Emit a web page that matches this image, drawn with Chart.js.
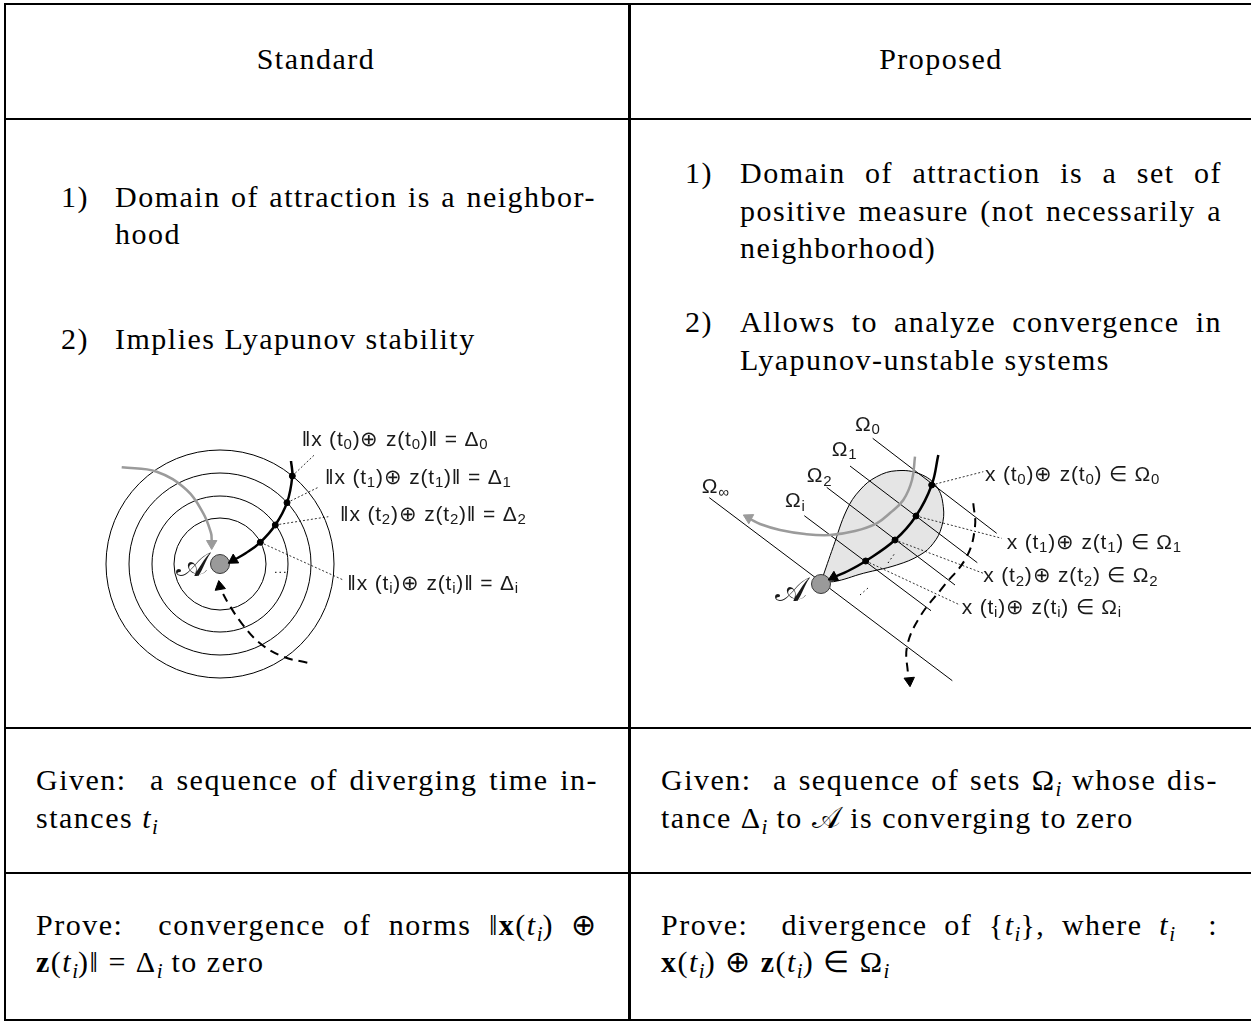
<!DOCTYPE html>
<html>
<head>
<meta charset="utf-8">
<script src="https://cdn.jsdelivr.net/npm/chart.js@4.4.1/dist/chart.umd.min.js"></script>
<style>
body { margin: 0; background: #fff; }
#page { position: relative; width: 1251px; height: 1021px; overflow: hidden;
        font-family: "Liberation Serif", serif; font-size: 30px; color: #000; letter-spacing: 1.5px; }
.rule { position: absolute; background: #000; }
.blk { position: absolute; line-height: 37px; }
.jl { text-align: justify; text-align-last: justify; }
.s { font-size: 70%; vertical-align: -0.28em; line-height: 0; letter-spacing: 0; }
.cal { font-family: "DejaVu Serif", serif; }
canvas { position: absolute; }
</style>
</head>
<body>
<div id="page">
  <div class="rule" style="left:4px;top:3px;width:1247px;height:2px"></div>
  <div class="rule" style="left:4px;top:3px;width:2px;height:1018px"></div>
  <div class="rule" style="left:4px;top:1019px;width:1247px;height:2px"></div>
  <div class="rule" style="left:628px;top:3px;width:3px;height:1018px"></div>
  <div class="rule" style="left:4px;top:118px;width:1247px;height:2px"></div>
  <div class="rule" style="left:4px;top:727px;width:1247px;height:2px"></div>
  <div class="rule" style="left:4px;top:872px;width:1247px;height:2px"></div>

  <div class="blk" style="left:4px;top:40px;width:624px;text-align:center">Standard</div>
  <div class="blk" style="left:631px;top:40px;width:620px;text-align:center">Proposed</div>

  <div class="blk" style="left:61px;top:178px">1)</div>
  <div class="blk" style="left:115px;top:178px;width:481px">
    <div class="jl">Domain of attraction is a neighbor-</div>
    <div>hood</div>
  </div>
  <div class="blk" style="left:61px;top:320px">2)</div>
  <div class="blk" style="left:115px;top:320px">Implies Lyapunov stability</div>

  <div class="blk" style="left:685px;top:154px;line-height:37.5px">1)</div>
  <div class="blk" style="left:740px;top:154px;width:482px;line-height:37.5px">
    <div class="jl">Domain of attraction is a set of</div>
    <div class="jl">positive measure (not necessarily a</div>
    <div>neighborhood)</div>
  </div>
  <div class="blk" style="left:685px;top:303px;line-height:37.5px">2)</div>
  <div class="blk" style="left:740px;top:303px;width:482px;line-height:37.5px">
    <div class="jl">Allows to analyze convergence in</div>
    <div>Lyapunov-unstable systems</div>
  </div>

  <div class="blk" style="left:36px;top:761px;width:562px;line-height:38px">
    <div class="jl">Given:&nbsp; a sequence of diverging time in-</div>
    <div>stances <i>t</i><span class="s"><i>i</i></span></div>
  </div>
  <div class="blk" style="left:661px;top:761px;width:557px;line-height:38px">
    <div class="jl">Given:&nbsp; a sequence of sets &Omega;<span class="s"><i>i</i></span> whose dis-</div>
    <div>tance &Delta;<span class="s"><i>i</i></span> to <span class="cal">&#x1D49C;</span> is converging to zero</div>
  </div>

  <div class="blk" style="left:36px;top:906px;width:562px">
    <div class="jl">Prove:&nbsp; convergence of norms &#x2016;<b>x</b>(<i>t</i><span class="s"><i>i</i></span>) &oplus;</div>
    <div><b>z</b>(<i>t</i><span class="s"><i>i</i></span>)&#x2016; = &Delta;<span class="s"><i>i</i></span> to zero</div>
  </div>
  <div class="blk" style="left:661px;top:906px;width:557px">
    <div class="jl">Prove:&nbsp; divergence of {<i>t</i><span class="s"><i>i</i></span>}, where <i>t</i><span class="s"><i>i</i></span> &nbsp;:</div>
    <div><b>x</b>(<i>t</i><span class="s"><i>i</i></span>) &oplus; <b>z</b>(<i>t</i><span class="s"><i>i</i></span>) &isin; &Omega;<span class="s"><i>i</i></span></div>
  </div>

  <canvas id="stdChart" width="470" height="300" style="left:90px;top:400px"></canvas>
  <canvas id="propChart" width="540" height="300" style="left:690px;top:400px"></canvas>
</div>

<script>
// ---- left panel: nested level sets around the attractor ----
var stdCenter = {x: 220, y: 564};
var stdRadii = [114, 91, 68, 46];
var stdTraj = [{x:291,y:461},{x:292.3,y:476},{x:287,y:502.7},{x:275.3,y:525},{x:260.3,y:542.3},{x:246,y:553},{x:234,y:560}];
var stdHits = [{x:292.3,y:476},{x:287,y:502.7},{x:275.3,y:525},{x:260.3,y:542.3}];
var stdGray = [{x:121.7,y:467.3},{x:156.7,y:471.7},{x:186.7,y:490},{x:203.3,y:513.3},{x:211,y:533},{x:211.7,y:540}];
var stdDashed = [{x:307.3,y:662.7},{x:283.3,y:656.7},{x:260,y:643.3},{x:241.7,y:623.3},{x:228.3,y:603.3},{x:220.5,y:589}];
var stdHeads = [{x:233.4,y:560.1,a:238},{x:219.8,y:586.5,a:350}];
var stdGrayHeads = [{x:211.7,y:543.5,a:180}];
var stdLeaders = [
  [{x:292.3,y:476},{x:315,y:454.3}],
  [{x:287,y:502.7},{x:318.3,y:487.3}],
  [{x:275.3,y:525},{x:328.3,y:516.7}],
  [{x:260.3,y:542.3},{x:343.3,y:580}]
];
var stdEllipsis = [{x:275,y:572.3},{x:287,y:572.3}];
var stdLabels = [
  {x:301.7, y:440, parts:['\u2016x (t',['0'],')\u2295 z(t',['0'],')\u2016 = \u0394',['0']]},
  {x:325, y:478.3, parts:['\u2016x (t',['1'],')\u2295 z(t',['1'],')\u2016 = \u0394',['1']]},
  {x:340, y:515, parts:['\u2016x (t',['2'],')\u2295 z(t',['2'],')\u2016 = \u0394',['2']]},
  {x:347.3, y:584, parts:['\u2016x (t',['i'],')\u2295 z(t',['i'],')\u2016 = \u0394',['i']]},
  {x:176, y:567, big:true, parts:['\uD835\uDC9C']}
];

// ---- right panel: sets Omega_i approaching the attractor ----
var propA = {x: 821, y: 584};
var propLines = [
  [{x:709.3,y:497.7},{x:952.3,y:680.7}],
  [{x:872.7,y:438.3},{x:996.7,y:533.3}],
  [{x:850,y:466},{x:977.3,y:562.7}],
  [{x:826.7,y:487.3},{x:955,y:585}],
  [{x:804.3,y:515.7},{x:931,y:610.7}]
];
var propDrop = [{x:821.7,y:580},{x:833.3,y:546.7},{x:846.7,y:510},{x:860,y:490},{x:876.7,y:476.7},{x:896.7,y:470.7},
  {x:920,y:474},{x:936.7,y:486.7},{x:943.3,y:506.7},{x:941.7,y:526.7},{x:933.3,y:543.3},{x:920,y:555},
  {x:896.7,y:565},{x:863.3,y:573.3},{x:833.3,y:581.7},{x:821.7,y:580}];
var propTraj = [{x:938.3,y:455},{x:931.7,y:485},{x:916,y:516},{x:895,y:540},{x:865.7,y:561},{x:848,y:571},{x:834,y:577}];
var propHits = [{x:931.7,y:485},{x:916,y:516},{x:895,y:540},{x:865.7,y:561}];
var propGray = [{x:915,y:456.7},{x:912,y:480},{x:903.3,y:500},{x:890,y:513},{x:876.7,y:523.3},{x:855,y:531},
  {x:830,y:535},{x:805,y:534},{x:780,y:530},{x:760,y:524},{x:750,y:519}];
var propDashed = [{x:973.3,y:503.3},{x:975,y:526.7},{x:966.7,y:556.7},{x:943.3,y:586.7},{x:920,y:616.7},{x:907,y:646.7},{x:908,y:675}];
var propHeads = [{x:833.6,y:577.3,a:243},{x:909.5,y:680.7,a:175}];
var propGrayHeads = [{x:748.6,y:517.8,a:298}];
var propLeaders = [
  [{x:931.7,y:485},{x:983.3,y:471.7}],
  [{x:916,y:516},{x:1001.7,y:538.3}],
  [{x:895,y:540},{x:983.3,y:573.3}],
  [{x:865.7,y:561},{x:960,y:605}]
];
var propEllipsis = [
  [{x:888,y:563},{x:895,y:553}],
  [{x:860,y:595},{x:868,y:588}]
];
var propLabels = [
  {x:855, y:425, parts:['\u03A9',['0']]},
  {x:831.7, y:450, parts:['\u03A9',['1']]},
  {x:806.7, y:476.7, parts:['\u03A9',['2']]},
  {x:785, y:501.7, parts:['\u03A9',['i']]},
  {x:701.7, y:487.5, parts:['\u03A9',['\u221E']]},
  {x:985, y:475, parts:['x (t',['0'],')\u2295 z(t',['0'],') \u2208 \u03A9',['0']]},
  {x:1006.7, y:543.3, parts:['x (t',['1'],')\u2295 z(t',['1'],') \u2208 \u03A9',['1']]},
  {x:983.3, y:576.7, parts:['x (t',['2'],')\u2295 z(t',['2'],') \u2208 \u03A9',['2']]},
  {x:961.7, y:608.3, parts:['x (t',['i'],')\u2295 z(t',['i'],') \u2208 \u03A9',['i']]},
  {x:775, y:592, big:true, parts:['\uD835\uDC9C']}
];

function richLabels(items){
  return {
    id: 'richLabels',
    afterDatasetsDraw: function(chart){
      var ctx = chart.ctx, xs = chart.scales.x, ys = chart.scales.y;
      items.forEach(function(l){
        var px = xs.getPixelForValue(l.x), py = ys.getPixelForValue(l.y);
        ctx.save();
        ctx.fillStyle = '#1a1a1a';
        ctx.textBaseline = 'middle';
        l.parts.forEach(function(p){
          var sub = Array.isArray(p);
          var t = sub ? p[0] : p;
          ctx.font = l.big ? '34px "DejaVu Serif"' : (sub ? '15px "Liberation Sans"' : '21px "Liberation Sans"');
          ctx.letterSpacing = l.big ? '0px' : '0.8px';
          ctx.fillText(t, px, py + (sub ? 5 : 0));
          px += ctx.measureText(t).width;
        });
        ctx.restore();
      });
    }
  };
}

function seg(pts, opts){
  return Object.assign({type:'line', data:pts, borderColor:'#000', borderWidth:1, pointRadius:0, fill:false, clip:false}, opts || {});
}

function heads(pts, color, order){
  return {type:'scatter', data:pts, pointStyle:'triangle', pointRadius:6, pointRotation:function(c){ return c.raw.a; },
          backgroundColor:color, borderColor:color, borderWidth:1, order:order, clip:false};
}

function dots(pts, order){
  return {type:'scatter', data:pts, pointRadius:3, backgroundColor:'#000', borderColor:'#000', order:order, clip:false};
}

function frame(x0, x1, y0, y1){
  return {
    responsive:false, animation:false, events:[],
    layout:{padding:0, autoPadding:false},
    plugins:{legend:{display:false}, tooltip:{enabled:false}},
    scales:{
      x:{type:'linear', min:x0, max:x1, display:false},
      y:{type:'linear', min:y0, max:y1, reverse:true, display:false}
    }
  };
}

var stdSets = [
  heads(stdHeads, '#000', 0),
  heads(stdGrayHeads, '#9b9b9b', 1),
  dots(stdHits, 2),
  {type:'bubble', data:[{x:stdCenter.x, y:stdCenter.y, r:9.5}], backgroundColor:'#9a9a9a', borderColor:'#3a3a3a', borderWidth:1, order:3, clip:false},
  seg(stdTraj, {borderWidth:2.5, tension:0.4, order:4}),
  seg(stdGray, {borderColor:'#9b9b9b', borderWidth:2.5, tension:0.4, order:5}),
  seg(stdDashed, {borderWidth:2, borderDash:[9,6], tension:0.4, order:6}),
  seg(stdEllipsis, {borderWidth:1, borderDash:[1.5,3], order:7}),
  {type:'bubble', data:stdRadii.map(function(r){ return {x:stdCenter.x, y:stdCenter.y, r:r}; }),
   backgroundColor:'rgba(0,0,0,0)', borderColor:'#000', borderWidth:1, order:9, clip:false}
];
stdLeaders.forEach(function(l){ stdSets.push(seg(l, {borderWidth:0.8, borderDash:[2,2], order:8})); });

new Chart(document.getElementById('stdChart'), {
  type:'scatter',
  data:{datasets:stdSets},
  options:frame(90, 560, 400, 700),
  plugins:[richLabels(stdLabels)]
});

var propSets = [
  heads(propHeads, '#000', 0),
  heads(propGrayHeads, '#9b9b9b', 1),
  dots(propHits, 2),
  {type:'bubble', data:[{x:propA.x, y:propA.y, r:9.5}], backgroundColor:'#9a9a9a', borderColor:'#3a3a3a', borderWidth:1, order:3, clip:false},
  seg(propTraj, {borderWidth:2.5, tension:0.4, order:4}),
  seg(propGray, {borderColor:'#9b9b9b', borderWidth:2.5, tension:0.4, order:5}),
  seg(propDashed, {borderWidth:2, borderDash:[9,6], tension:0.4, order:6}),
  seg(propDrop, {borderWidth:1, tension:0.4, fill:'shape', backgroundColor:'#e5e5e5', order:12})
];
propEllipsis.forEach(function(l){ propSets.push(seg(l, {borderWidth:1, borderDash:[1.5,3], order:7})); });
propLeaders.forEach(function(l){ propSets.push(seg(l, {borderWidth:0.8, borderDash:[2,2], order:8})); });
propLines.forEach(function(l){ propSets.push(seg(l, {borderWidth:1, order:10})); });

new Chart(document.getElementById('propChart'), {
  type:'scatter',
  data:{datasets:propSets},
  options:frame(690, 1230, 400, 700),
  plugins:[richLabels(propLabels)]
});
</script>
</body>
</html>
